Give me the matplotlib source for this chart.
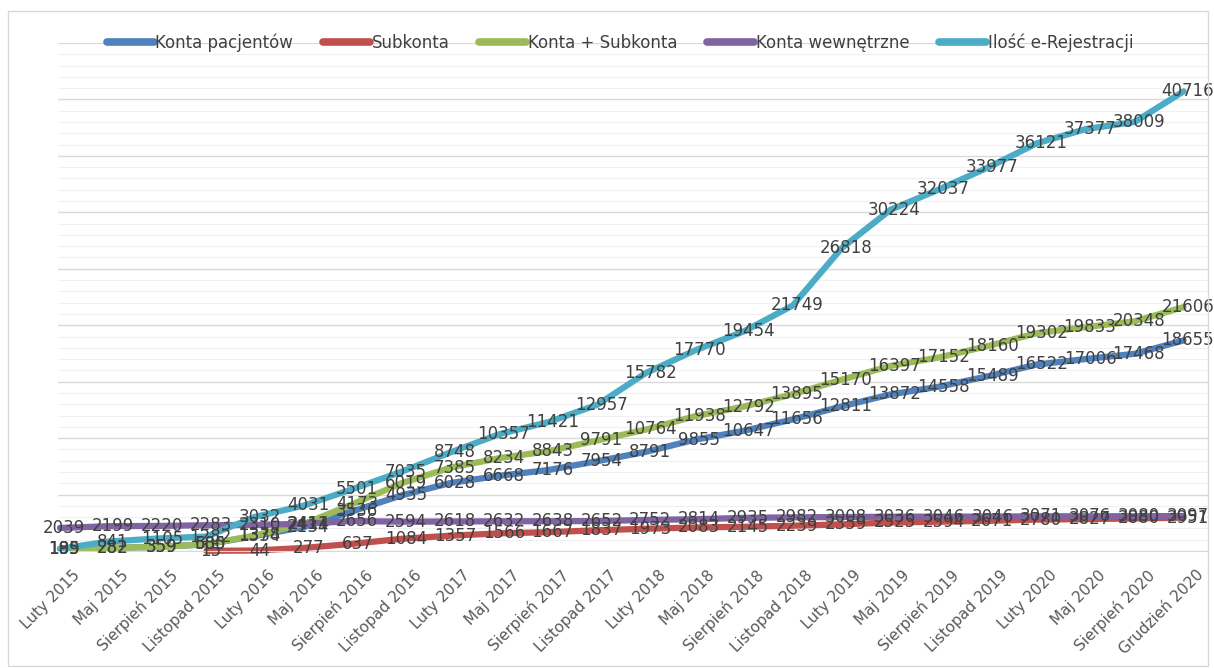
import numpy as np
import matplotlib
matplotlib.use("Agg")
import matplotlib.pyplot as plt
from matplotlib.ticker import MultipleLocator
from matplotlib.patches import Rectangle
from matplotlib.transforms import ScaledTranslation

months = ["Luty 2015", "Maj 2015", "Sierpień 2015", "Listopad 2015",
          "Luty 2016", "Maj 2016", "Sierpień 2016", "Listopad 2016",
          "Luty 2017", "Maj 2017", "Sierpień 2017", "Listopad 2017",
          "Luty 2018", "Maj 2018", "Sierpień 2018", "Listopad 2018",
          "Luty 2019", "Maj 2019", "Sierpień 2019", "Listopad 2019",
          "Luty 2020", "Maj 2020", "Sierpień 2020", "Grudzień 2020"]

konta_pacjentow = [185, 282, 359, 585, 1334, 2134, 3536, 4935, 6028, 6668, 7176, 7954,
                   8791, 9855, 10647, 11656, 12811, 13872, 14558, 15489, 16522, 17006, 17468, 18655]
subkonta = [np.nan, np.nan, np.nan, 15, 44, 277, 637, 1084, 1357, 1566, 1667, 1837,
            1973, 2083, 2145, 2239, 2359, 2525, 2594, 2671, 2780, 2827, 2880, 2951]
konta_subkonta = [185, 282, 359, 600, 1378, 2411, 4173, 6019, 7385, 8234, 8843, 9791,
                  10764, 11938, 12792, 13895, 15170, 16397, 17152, 18160, 19302, 19833, 20348, 21606]
konta_wewn = [2039, 2199, 2220, 2283, 2310, 2414, 2656, 2594, 2618, 2632, 2638, 2652,
              2752, 2814, 2935, 2982, 3008, 3036, 3046, 3046, 3071, 3076, 3080, 3097]
e_rejestracje = [199, 841, 1105, 1282, 3032, 4031, 5501, 7035, 8748, 10357, 11421, 12957,
                 15782, 17770, 19454, 21749, 26818, 30224, 32037, 33977, 36121, 37377, 38009, 40716]

series = [
    ("Konta pacjentów", konta_pacjentow, "#4F81BD"),
    ("Subkonta", subkonta, "#C0504D"),
    ("Konta + Subkonta", konta_subkonta, "#9BBB59"),
    ("Konta wewnętrzne", konta_wewn, "#8064A2"),
    ("Ilość e-Rejestracji", e_rejestracje, "#4BACC6"),
]

fig = plt.figure(figsize=(12.14, 6.68), dpi=100)
ax = fig.add_axes([58 / 1214, 117 / 668, 1150 / 1214, 508 / 668])

x = np.arange(len(months))
for name, vals, col in series:
    ax.plot(x, vals, color=col, lw=4.5, solid_joinstyle="round",
            solid_capstyle="round", label=name, clip_on=False)

# data labels, centred on the points
for name, vals, col in series:
    for i, v in enumerate(vals):
        if np.isnan(v):
            continue
        ax.annotate(str(int(v)), (i, v), xytext=(3, 0), textcoords="offset points",
                    ha="center", va="center", fontsize=12, color="#404040")

ax.set_xlim(-0.04, 23.5)
ax.set_ylim(0, 45000)
ax.yaxis.set_major_locator(MultipleLocator(5000))
ax.yaxis.set_minor_locator(MultipleLocator(1000))
ax.grid(axis="y", which="major", color="#d9d9d9", lw=1)
ax.grid(axis="y", which="minor", color="#f0f0f0", lw=0.8)
ax.set_axisbelow(True)
ax.tick_params(axis="y", which="both", left=False, labelleft=False)
ax.tick_params(axis="x", length=0, pad=6)
for s in ["top", "right", "left"]:
    ax.spines[s].set_visible(False)
ax.spines["bottom"].set_color("#d9d9d9")

ax.set_xticks(x)
ax.set_xticklabels(months, rotation=45, ha="right", rotation_mode="anchor",
                   fontsize=11, color="#595959")
shift = ScaledTranslation(12 / 100, -8 / 100, fig.dpi_scale_trans)
for lbl in ax.get_xticklabels():
    lbl.set_transform(lbl.get_transform() + shift)

leg = fig.legend(loc="center", bbox_to_anchor=(620 / 1214, 1 - 43 / 668), ncol=5,
                 frameon=False, fontsize=12, handlelength=2.8, handletextpad=0.1,
                 columnspacing=1.8)
for h in leg.get_lines():
    h.set_linewidth(5.5)
for t in leg.get_texts():
    t.set_color("#404040")

fig.patches.append(Rectangle((8 / 1214, 2 / 668), 1200 / 1214, 655 / 668,
                             transform=fig.transFigure, fill=False,
                             edgecolor="#d9d9d9", lw=1))

fig.savefig("out.png", dpi=100)
